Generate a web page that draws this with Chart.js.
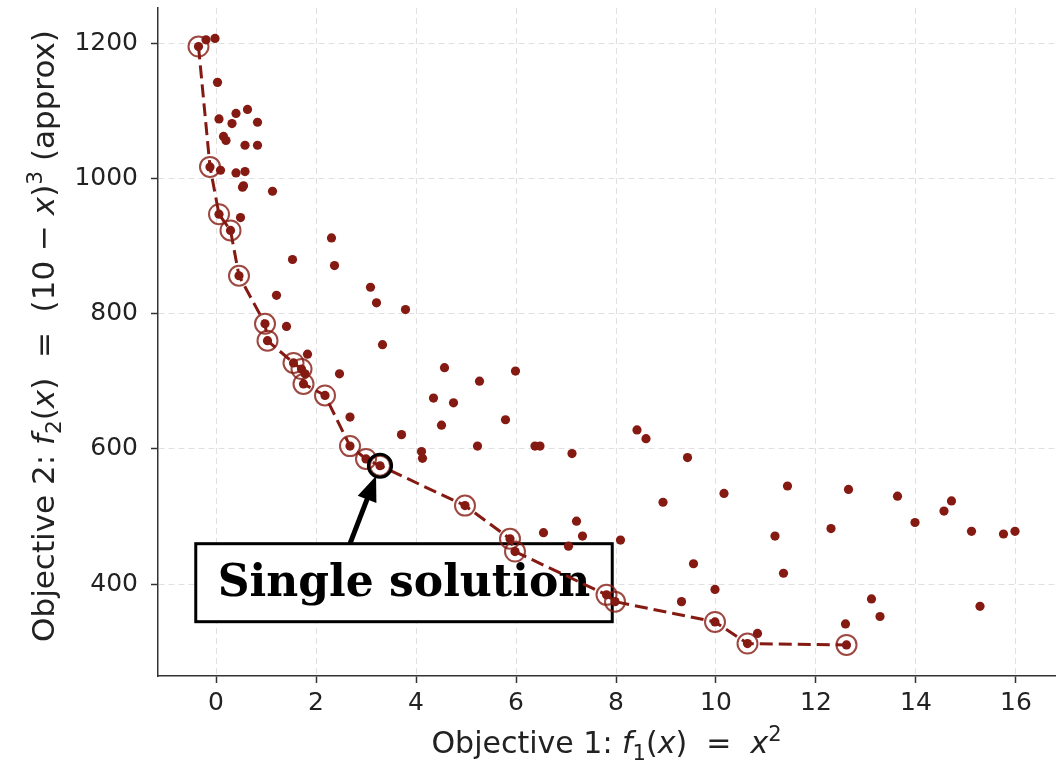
<!DOCTYPE html>
<html>
<head>
<meta charset="utf-8">
<script src="https://cdn.jsdelivr.net/npm/chart.js@4.4.1/dist/chart.umd.min.js"></script>
<style>
  html, body { margin: 0; padding: 0; background: #fff; }
  #wrap { width: 1064px; height: 763px; }
</style>
</head>
<body>
<div id="wrap"><canvas id="chart" width="1064" height="763"></canvas></div>
<script>
// population (all evaluated solutions)
const popX = [-0.35, -0.2, -0.02, 0.03, 0.06, 0.4, 0.63, 0.32, 0.83, 0.15, 0.2, 0.58, 0.83,
  -0.12, 0.09, 0.4, 0.58, 0.53, 0.55, 1.13, 0.06, 0.49, 0.29, 2.31, 1.53, 2.37, 0.46, 1.21,
  3.09, 3.21, 3.79, 0.98, 1.41, 1.03, 3.33, 1.83, 1.55, 1.71, 1.78, 1.75, 2.18, 2.47, 2.68,
  3.71, 2.68, 3.0, 3.28, 4.11, 4.13, 4.57, 4.35, 4.51, 4.75, 5.27, 5.99, 5.79, 5.23, 6.38,
  6.48, 7.12, 8.42, 8.6, 9.43, 10.16, 8.94, 4.98, 5.88, 5.98, 6.55, 7.21, 7.33, 7.05, 8.09,
  9.55, 9.98, 9.31, 11.43, 11.18, 11.35, 9.98, 10.83, 10.63, 12.61, 12.59, 12.65, 12.3,
  13.11, 13.28, 13.63, 13.98, 14.56, 14.71, 15.11, 15.28, 15.75, 15.98, 7.81, 7.98];
const popY = [1195, 1205, 1207, 1142, 1088, 1096, 1102, 1081, 1083, 1062, 1056, 1049, 1049,
  1017, 1012, 1008, 1010, 987, 989, 981, 947, 942, 923, 912, 880, 871, 856, 827,
  839, 816, 806, 785, 781, 760, 754, 740, 727, 718, 711, 696, 679, 711, 647,
  621, 604, 585, 575, 596, 586, 720, 675, 635, 668, 700, 715, 643, 604, 604,
  604, 593, 628, 615, 587, 534, 521, 516, 467, 448, 476, 493, 471, 456, 465,
  430, 392, 374, 545, 471, 416, 344, 327, 312, 310, 341, 540, 482,
  378, 352, 530, 491, 508, 523, 478, 367, 474, 478, 384, 374];

// non-dominated front
const frontX = [-0.35, -0.12, 0.06, 0.29, 0.46, 0.98, 1.03, 1.55, 1.71, 1.75, 2.18, 2.68,
  3.0, 3.28, 4.98, 5.88, 5.98, 7.81, 7.98, 9.98, 10.63, 12.61];
const frontY = [1195, 1017, 947, 923, 856, 785, 760, 727, 718, 696, 679, 604,
  585, 575, 516, 467, 448, 384, 374, 344, 312, 310];

const xTicks = [0, 2, 4, 6, 8, 10, 12, 14, 16];
const yTicks = [400, 600, 800, 1000, 1200];

// highlighted solution and its label
const pickX = 3.28, pickY = 575;
const noteText = 'Single solution';
const noteX = 3.76, noteY = 402;
const arrowFromX = 2.68;

const red = '#841a12';

function toPoints(xs, ys) {
  return xs.map((v, i) => ({ x: v, y: ys[i] }));
}

// draws text made of plain / italic / sub / sup pieces, returns width
function richText(ctx, parts, size, x, y, measureOnly) {
  let cx = x;
  for (const [txt, kind] of parts) {
    let font = size + 'px "DejaVu Sans"';
    let dy = 0;
    if (kind === 'i') font = 'italic ' + size + 'px "DejaVu Sans"';
    if (kind === 'sub') { font = (size * 0.7) + 'px "DejaVu Sans"'; dy = size * 0.22; }
    if (kind === 'sup') { font = (size * 0.7) + 'px "DejaVu Sans"'; dy = -size * 0.4; }
    ctx.font = font;
    if (!measureOnly) ctx.fillText(txt, cx, y + dy);
    cx += ctx.measureText(txt).width;
  }
  return cx - x;
}

const xTitle = [['Objective 1: ', 'n'], ['f', 'i'], ['1', 'sub'], ['(', 'n'], ['x', 'i'],
  [')  =  ', 'n'], ['x', 'i'], ['2', 'sup']];
const yTitle = [['Objective 2: ', 'n'], ['f', 'i'], ['2', 'sub'], ['(', 'n'], ['x', 'i'],
  [')  =  (10 \u2212 ', 'n'], ['x', 'i'], [')', 'n'], ['3', 'sup'], [' (approx)', 'n']];

const titlePlugin = {
  id: 'axisTitles',
  afterDraw(chart) {
    const { ctx, chartArea } = chart;
    ctx.save();
    ctx.fillStyle = '#222';
    ctx.textBaseline = 'alphabetic';
    let w = richText(ctx, xTitle, 30, 0, 0, true);
    richText(ctx, xTitle, 30, (chartArea.left + chartArea.right) / 2 - w / 2, 753);
    ctx.translate(54, (chartArea.top + chartArea.bottom) / 2 - 6);
    ctx.rotate(-Math.PI / 2);
    w = richText(ctx, yTitle, 31, 0, 0, true);
    richText(ctx, yTitle, 31, -w / 2, 0);
    ctx.restore();
  }
};

const notePlugin = {
  id: 'note',
  beforeDatasetsDraw(chart) {
    const { ctx } = chart;
    const { x, y } = chart.scales;
    const cx = x.getPixelForValue(noteX), cy = y.getPixelForValue(noteY);
    ctx.save();
    ctx.font = 'bold 44px "DejaVu Serif"';
    const w = ctx.measureText(noteText).width;
    const bw = w + 44, bh = 78;
    ctx.fillStyle = '#fff';
    ctx.fillRect(cx - bw / 2, cy - bh / 2, bw, bh);
    ctx.lineWidth = 3;
    ctx.strokeStyle = '#000';
    ctx.strokeRect(cx - bw / 2, cy - bh / 2, bw, bh);
    ctx.fillStyle = '#000';
    ctx.textAlign = 'center';
    ctx.textBaseline = 'middle';
    ctx.fillText(noteText, cx, cy + 2);
    ctx.restore();
    chart.$noteTop = cy - bh / 2;
  },
  afterDatasetsDraw(chart) {
    const { ctx } = chart;
    const { x, y } = chart.scales;
    const x0 = x.getPixelForValue(arrowFromX), y0 = chart.$noteTop;
    const tx = x.getPixelForValue(pickX), ty = y.getPixelForValue(pickY);
    const dx = tx - x0, dy = ty - y0, len = Math.hypot(dx, dy);
    const ux = dx / len, uy = dy / len;
    const tipX = tx - ux * 11, tipY = ty - uy * 11;
    const headL = 25, headW = 10;
    const bx = tipX - ux * headL, by = tipY - uy * headL;
    ctx.save();
    ctx.strokeStyle = '#000';
    ctx.fillStyle = '#000';
    ctx.lineWidth = 5;
    ctx.beginPath();
    ctx.moveTo(x0, y0);
    ctx.lineTo(bx + ux * 2, by + uy * 2);
    ctx.stroke();
    ctx.beginPath();
    ctx.moveTo(tipX, tipY);
    ctx.lineTo(bx - uy * headW, by + ux * headW);
    ctx.lineTo(bx + uy * headW, by - ux * headW);
    ctx.closePath();
    ctx.fill();
    ctx.restore();
  }
};

const tickFont = { family: '"DejaVu Sans"', size: 25 };
const plainTick = v => String(v);

new Chart(document.getElementById('chart'), {
  type: 'scatter',
  data: {
    datasets: [
      {
        label: 'pick',
        data: [{ x: pickX, y: pickY }],
        pointRadius: 11.5,
        pointBorderWidth: 3.2,
        pointBorderColor: '#000',
        pointBackgroundColor: 'rgba(0,0,0,0)',
        order: 1
      },
      {
        label: 'population',
        data: toPoints(popX, popY),
        pointRadius: 4.6,
        pointBorderWidth: 0,
        pointBackgroundColor: red,
        order: 2
      },
      {
        label: 'front',
        data: toPoints(frontX, frontY),
        showLine: true,
        borderColor: red,
        borderWidth: 3,
        borderDash: [13, 6],
        pointRadius: 10,
        pointBorderWidth: 2,
        pointBorderColor: 'rgba(132,26,18,0.8)',
        pointBackgroundColor: 'rgba(0,0,0,0)',
        order: 3
      }
    ]
  },
  options: {
    responsive: false,
    animation: false,
    devicePixelRatio: 1,
    layout: { autoPadding: false, padding: { left: 0, right: 9, top: 8, bottom: 0 } },
    plugins: { legend: { display: false }, tooltip: { enabled: false } },
    scales: {
      x: {
        type: 'linear',
        min: -1.16,
        max: 16.78,
        afterBuildTicks: s => { s.ticks = xTicks.map(v => ({ value: v })); },
        afterFit: s => { s.height = 87; s.paddingLeft = 0; s.paddingRight = 0; },
        ticks: { font: tickFont, color: '#222', padding: 5, maxRotation: 0, callback: plainTick },
        grid: { color: 'rgba(0,0,0,0.12)', lineWidth: 1, tickLength: 7, tickColor: '#333',
          tickWidth: 1.5, tickBorderDash: [] },
        border: { display: true, color: '#333', width: 1.5, dash: [6, 4] }
      },
      y: {
        type: 'linear',
        min: 264,
        max: 1252,
        afterBuildTicks: s => { s.ticks = yTicks.map(v => ({ value: v })); },
        afterFit: s => { s.width = 158; s.paddingTop = 0; s.paddingBottom = 0; },
        ticks: { font: tickFont, color: '#222', padding: 13, callback: plainTick },
        grid: { color: 'rgba(0,0,0,0.12)', lineWidth: 1, tickLength: 7, tickColor: '#333',
          tickWidth: 1.5, tickBorderDash: [] },
        border: { display: true, color: '#333', width: 1.5, dash: [6, 4] }
      }
    }
  },
  plugins: [notePlugin, titlePlugin]
});
</script>
</body>
</html>
